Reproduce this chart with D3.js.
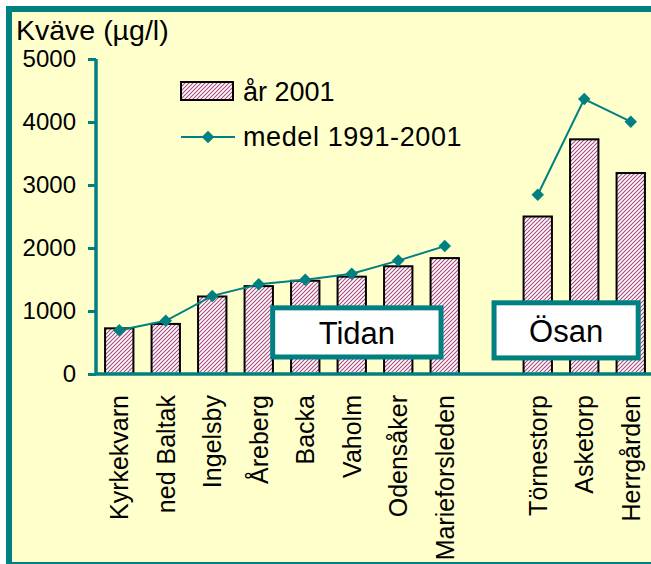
<!DOCTYPE html>
<html>
<head>
<meta charset="utf-8">
<script src="https://cdn.jsdelivr.net/npm/d3@7"></script>
<style>
  html, body { margin: 0; padding: 0; background: #fff; }
  svg { display: block; font-family: "Liberation Sans", Arial, sans-serif; }
</style>
</head>
<body>
<svg id="chart" width="651" height="564"></svg>
<script>
// stations, gap slot separates Tidan and Ösan
const categories = ["Kyrkekvarn", "ned Baltak", "Ingelsby", "Åreberg", "Backa", "Vaholm",
  "Odensåker", "Marieforsleden", "", "Törnestorp", "Asketorp", "Herrgården"];
const year2001 = [725, 795, 1230, 1395, 1480, 1545, 1710, 1840, null, 2500, 3725, 3190];
const medel = [695, 845, 1240, 1425, 1495, 1590, 1800, 2030, null, 2845, 4365, 4005];
const yTicks = [0, 1000, 2000, 3000, 4000, 5000];
const groups = [
  { name: "Tidan", from: 3.8, to: 7.42, top: 1050, bottom: 270 },
  { name: "Ösan", from: 8.56, to: 11.66, top: 1130, bottom: 255 }
];

const teal = "#008080";
const svg = d3.select("#chart");

const defs = svg.append("defs");
const pat = defs.append("pattern")
  .attr("id", "hatch")
  .attr("patternUnits", "userSpaceOnUse")
  .attr("width", 4).attr("height", 4);
pat.append("rect").attr("width", 4).attr("height", 4).attr("fill", "#fff");
pat.append("path")
  .attr("d", "M0,4 L4,0 M-1,1 L1,-1 M3,5 L5,3")
  .attr("stroke", "#a8487c")
  .attr("stroke-width", 1.1);

// frame
svg.append("rect")
  .attr("x", 9).attr("y", 9)
  .attr("width", 720).attr("height", 556)
  .attr("fill", "#ffffcc")
  .attr("stroke", teal)
  .attr("stroke-width", 6);

const x = d3.scaleBand()
  .domain(categories.map((d, i) => i))
  .range([96, 654])
  .paddingInner(0.39)
  .paddingOuter(0.195);
const xi = d3.scaleLinear().domain([0, 12]).range([96, 654]);
const y = d3.scaleLinear().domain([0, 5000]).range([374, 59]);

const data = categories.map((c, i) => ({ i, c, v: year2001[i], m: medel[i] }));

// bars
svg.append("g").selectAll("rect")
  .data(data.filter(d => d.v != null))
  .enter().append("rect")
  .attr("x", d => x(d.i))
  .attr("y", d => y(d.v))
  .attr("width", x.bandwidth())
  .attr("height", d => y(0) - y(d.v))
  .attr("fill", "url(#hatch)")
  .attr("stroke", "#000")
  .attr("stroke-width", 2);

// mean line
const cx = d => x(d.i) + x.bandwidth() / 2;
svg.append("path")
  .datum(data)
  .attr("fill", "none")
  .attr("stroke", teal)
  .attr("stroke-width", 2)
  .attr("d", d3.line().defined(d => d.m != null).x(cx).y(d => y(d.m)));

const marker = d3.symbol().type(d3.symbolSquare).size(78);
svg.append("g").selectAll("path")
  .data(data.filter(d => d.m != null))
  .enter().append("path")
  .attr("transform", d => `translate(${cx(d)},${y(d.m)}) rotate(45)`)
  .attr("d", marker)
  .attr("fill", teal);

// group boxes
groups.forEach(g => {
  svg.append("rect")
    .attr("x", xi(g.from))
    .attr("y", y(g.top))
    .attr("width", xi(g.to) - xi(g.from))
    .attr("height", y(g.bottom) - y(g.top))
    .attr("fill", "#fff")
    .attr("stroke", teal)
    .attr("stroke-width", 5);
  svg.append("text")
    .attr("x", (xi(g.from) + xi(g.to)) / 2)
    .attr("y", (y(g.top) + y(g.bottom)) / 2)
    .attr("dy", "0.36em")
    .attr("text-anchor", "middle")
    .style("font-size", "31px")
    .text(g.name);
});

// y axis
const yAxis = svg.append("g")
  .attr("transform", "translate(96,0)")
  .call(d3.axisLeft(y).tickValues(yTicks).tickFormat(d3.format("d")).tickSize(8).tickPadding(12));
yAxis.select(".domain").attr("stroke", teal).attr("stroke-width", 3.5)
  .attr("d", `M0,${y(5000)}V${y(0)}`);
yAxis.selectAll(".tick line").attr("stroke", teal).attr("stroke-width", 3);
yAxis.selectAll(".tick text")
  .attr("fill", "#000")
  .style("font-size", "24px")
  .style("font-family", "'Liberation Sans', Arial, sans-serif");

// x axis line
svg.append("line")
  .attr("x1", 96).attr("x2", 700)
  .attr("y1", y(0)).attr("y2", y(0))
  .attr("stroke", teal)
  .attr("stroke-width", 3.5);

// category labels
svg.append("g").selectAll("text")
  .data(data.filter(d => d.c))
  .enter().append("text")
  .attr("transform", d => `translate(${cx(d)},395) rotate(-90)`)
  .attr("dy", "0.36em")
  .attr("text-anchor", "end")
  .style("font-size", "25px")
  .text(d => d.c);

// title
svg.append("text")
  .attr("x", 16).attr("y", 40)
  .style("font-size", "28.5px")
  .text("Kväve (µg/l)");

// legend
const lg = svg.append("g");
lg.append("rect")
  .attr("x", 181).attr("y", 82).attr("width", 52).attr("height", 18)
  .attr("fill", "url(#hatch)").attr("stroke", "#000").attr("stroke-width", 2);
lg.append("text").attr("x", 243).attr("y", 101)
  .style("font-size", "27px").text("år 2001");
lg.append("line")
  .attr("x1", 181).attr("x2", 235).attr("y1", 137).attr("y2", 137)
  .attr("stroke", teal).attr("stroke-width", 2);
lg.append("path")
  .attr("transform", "translate(208,137) rotate(45)")
  .attr("d", marker)
  .attr("fill", teal);
lg.append("text").attr("x", 243).attr("y", 146)
  .style("font-size", "27px").style("letter-spacing", "0.6px")
  .text("medel 1991-2001");
</script>
</body>
</html>
